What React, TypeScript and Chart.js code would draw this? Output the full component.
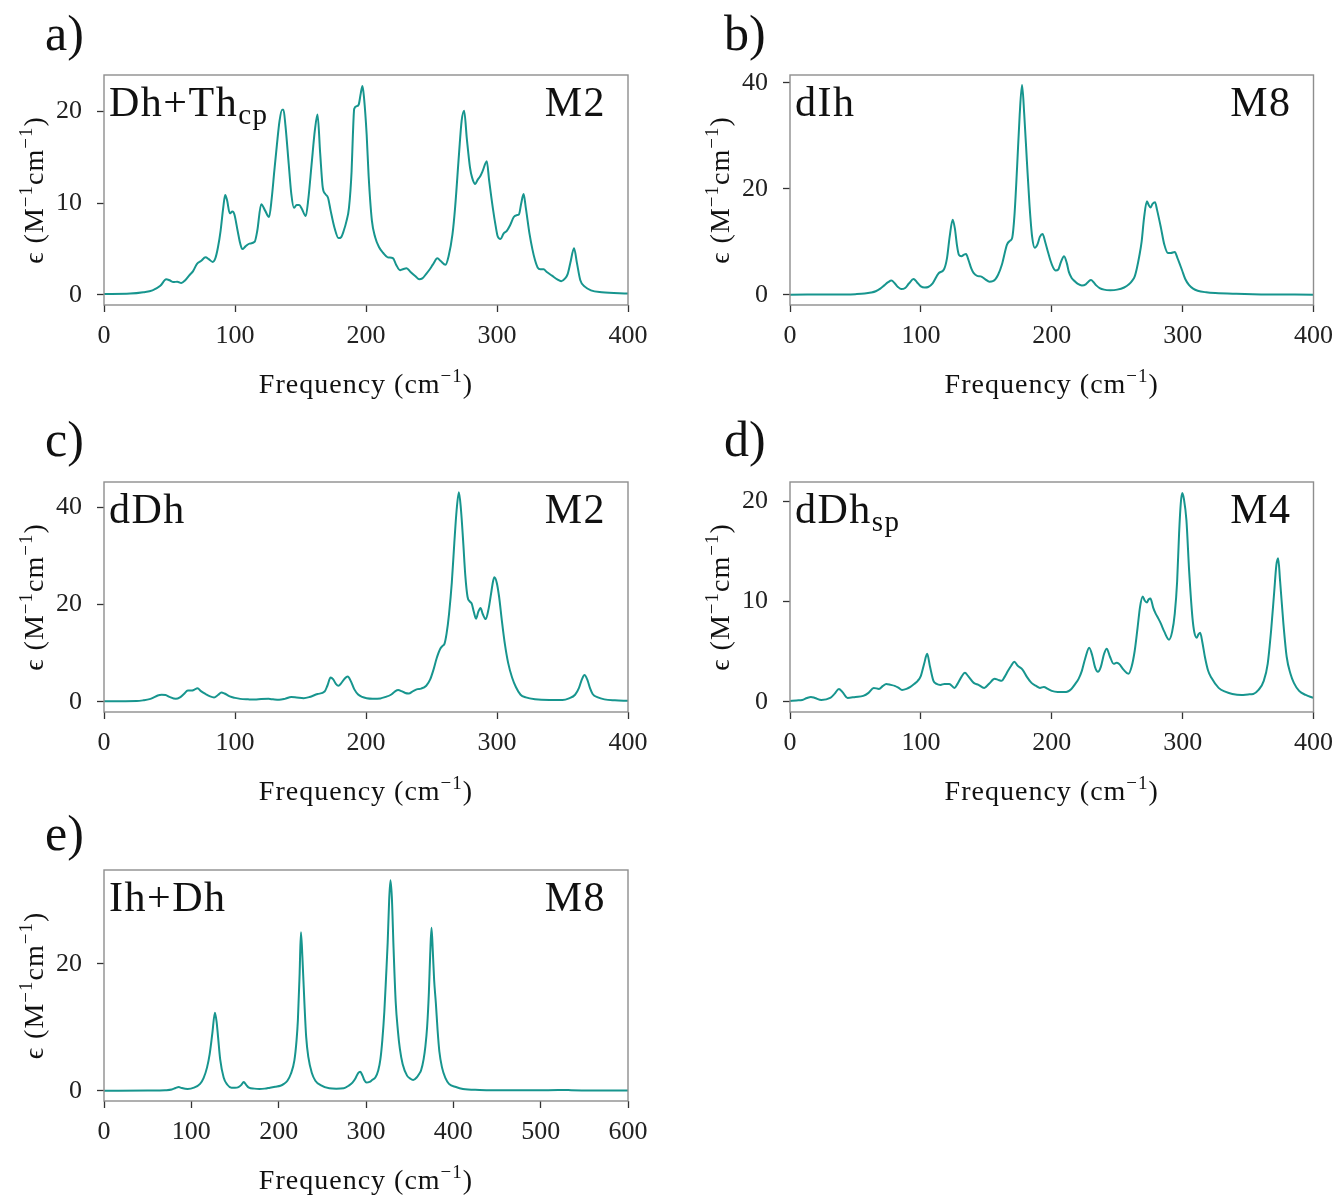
import { useEffect, useRef } from "react";
import { Chart, registerables } from "chart.js";

Chart.register(...registerables);

// ---------------- data ----------------
// a) Dh+Th_cp, M2
const freqA = [0, 20, 30, 37, 43, 47.5, 50, 53, 56, 59, 62, 65.5, 68, 71, 74, 77.5, 80, 83, 85, 87, 89, 91, 92.5, 94, 96, 98, 99.5, 102, 104, 105.6, 108, 111, 115, 117, 120, 123, 126, 128, 130, 132, 134, 136, 137, 138.5, 141, 143, 145, 147, 149, 151, 154, 156, 158.5, 161, 163, 165, 167, 169, 171, 173, 176, 179, 181, 183, 185, 187, 189, 190, 191, 193, 194.5, 196, 197.3, 198.5, 200.5, 202, 204.5, 207, 210, 213, 216.6, 220.6, 223, 226, 228, 231, 234, 238, 240.6, 243, 246, 248.7, 251, 254.5, 257, 260.7, 263, 266, 268, 271, 273, 274.9, 277, 279.4, 281, 283.4, 285, 287.4, 289, 292.2, 294, 296.8, 299, 300.5, 302.7, 305, 307.5, 310, 312.8, 315, 316.8, 318.5, 320.3, 322, 324.9, 327, 329, 331, 333, 335.6, 338, 342, 346, 349, 352, 354, 356, 358.8, 361, 363.6, 367, 371.7, 380, 400];
const epsA = [0.1, 0.15, 0.3, 0.5, 1.0, 1.7, 1.6, 1.4, 1.45, 1.3, 1.6, 2.2, 2.6, 3.4, 3.7, 4.1, 3.9, 3.6, 4.0, 5.2, 7.0, 9.5, 10.9, 10.3, 8.9, 9.1, 8.8, 7.0, 5.6, 5.0, 5.3, 5.6, 5.8, 7.0, 9.9, 9.2, 8.5, 10.5, 13.5, 16.4, 19.0, 20.2, 20.2, 18.5, 14.3, 11.0, 9.5, 9.8, 9.8, 9.4, 8.6, 10.5, 14.3, 18.0, 19.7, 15.5, 11.7, 11.0, 10.6, 9.2, 7.3, 6.2, 6.3, 7.0, 8.0, 9.5, 13.5, 17.5, 20.3, 20.6, 20.8, 22.0, 22.8, 21.5, 17.5, 13.0, 8.1, 6.3, 5.2, 4.6, 4.1, 4.0, 3.3, 2.7, 2.8, 2.9, 2.5, 2.0, 1.7, 1.8, 2.3, 2.8, 3.3, 4.0, 3.7, 3.3, 4.2, 6.6, 9.5, 15.4, 19.0, 20.1, 17.0, 13.9, 12.8, 12.1, 12.5, 13.0, 13.5, 14.6, 12.5, 9.5, 7.5, 6.4, 6.1, 6.7, 7.0, 7.6, 8.5, 8.7, 8.8, 10.0, 11.0, 9.5, 6.6, 5.0, 3.8, 3.0, 2.8, 2.8, 2.5, 2.1, 1.7, 1.5, 1.8, 2.3, 3.5, 5.1, 3.5, 1.6, 0.9, 0.5, 0.3, 0.15];

// b) dIh, M8
const freqB = [0, 40, 50, 57, 62, 65.5, 69, 72, 75, 77.5, 80, 82.5, 85, 88, 91, 94.4, 97, 100, 103, 105.6, 109, 113.6, 117.6, 120, 122, 124.3, 126, 127.5, 129, 131, 133, 134.5, 136.5, 138.5, 140.4, 143, 145.7, 149, 152.4, 155, 157, 159, 162, 165.8, 168, 169.8, 171.5, 173.5, 175.5, 177.3, 179, 181, 183, 185, 187, 189, 191, 193, 195, 197, 199, 201, 203, 205, 207, 209.4, 211.5, 213, 215.2, 218, 220, 223, 226, 228, 230, 232, 234, 236.6, 240, 244.7, 250, 255.3, 259, 261.5, 263.4, 265, 266.8, 268.7, 270.5, 272.7, 274, 275.4, 277, 278.9, 280.5, 283.4, 286, 288.8, 291, 294, 296, 299.5, 302, 304.8, 308, 311.5, 318, 325, 341, 360, 400];
const epsB = [0.05, 0.1, 0.15, 0.25, 0.45, 0.7, 1.2, 1.8, 2.4, 2.7, 2.2, 1.5, 1.1, 1.3, 2.2, 3.0, 2.4, 1.6, 1.4, 1.5, 2.2, 4.1, 4.8, 7.0, 11.0, 14.2, 12.5, 9.5, 7.6, 7.3, 7.6, 7.7, 6.5, 5.0, 4.1, 3.6, 3.5, 3.0, 2.5, 2.6, 3.0, 3.8, 5.8, 9.5, 10.2, 10.8, 15.0, 24.0, 34.0, 39.6, 34.0, 25.3, 17.0, 11.0, 8.9, 9.5, 11.0, 11.5, 10.0, 8.2, 6.5, 5.2, 4.6, 4.8, 6.2, 7.3, 6.0, 4.4, 3.2, 2.5, 2.1, 1.8, 2.0, 2.5, 2.8, 2.4, 1.8, 1.3, 1.0, 0.9, 1.0, 1.4, 2.0, 2.7, 3.5, 5.0, 7.2, 10.1, 14.5, 17.7, 17.0, 16.5, 17.2, 17.5, 16.0, 12.7, 9.5, 7.9, 7.9, 8.1, 7.0, 4.7, 3.0, 1.9, 1.2, 0.8, 0.5, 0.35, 0.2, 0.1, 0.05];

// c) dDh, M2
const freqC = [0, 25, 30, 34.8, 38, 41, 44, 47, 50, 54.8, 58, 61, 64, 67, 69, 71.4, 74, 77.5, 81, 84, 87, 89.6, 92, 96, 100, 104, 110, 115, 120, 125.7, 129, 133.7, 138, 143, 147, 152.4, 157, 163, 168.4, 170.5, 173, 175, 177, 179, 181, 183.5, 186, 188.5, 191, 194, 197, 200.5, 205, 211, 215, 219, 222, 224.6, 227, 230, 232.6, 236, 239.3, 242, 246, 249, 251.3, 254, 256.7, 258.5, 259.9, 261.5, 263.4, 265.5, 267.4, 269.2, 270.9, 272.5, 274.1, 275.8, 277.5, 279, 280.7, 282.3, 284, 285.7, 287.4, 289.2, 291.4, 293.5, 295.5, 297, 298, 299.8, 301.6, 303.8, 306, 308.5, 311.5, 314.5, 318, 322, 329, 340, 350, 355, 359.6, 362.5, 364.8, 366.8, 369, 371, 373, 377, 382, 390, 400];
const epsC = [0.1, 0.15, 0.3, 0.55, 0.9, 1.3, 1.45, 1.4, 1.0, 0.6, 0.9, 1.6, 2.3, 2.3, 2.5, 2.8, 2.2, 1.6, 1.1, 0.9, 1.4, 1.9, 1.7, 1.1, 0.8, 0.6, 0.5, 0.45, 0.55, 0.6, 0.5, 0.4, 0.6, 1.0, 0.9, 0.75, 1.0, 1.6, 2.1, 3.3, 5.0, 4.6, 3.7, 3.3, 3.8, 4.7, 5.2, 4.2, 2.6, 1.5, 1.0, 0.75, 0.65, 0.7, 1.0, 1.45, 2.1, 2.4, 2.2, 1.8, 1.7, 2.2, 2.6, 2.7, 3.3, 4.6, 6.4, 9.0, 10.9, 11.5, 11.9, 14.0, 18.1, 24.5, 32.6, 39.5, 43.1, 39.5, 33.3, 26.0, 21.6, 20.7, 20.2, 18.5, 17.1, 18.5, 19.3, 18.0, 17.0, 19.0, 22.3, 24.8, 25.6, 24.5, 21.6, 16.5, 11.9, 8.0, 5.0, 3.0, 1.45, 0.9, 0.5, 0.35, 0.35, 0.7, 1.45, 2.8, 4.6, 5.5, 4.5, 2.8, 1.6, 0.9, 0.5, 0.3, 0.2];

// d) dDh_sp, M4
const freqD = [0, 5, 9.4, 13, 16, 19, 24, 30.7, 34, 37.4, 40, 44, 50, 56, 60, 64, 68, 71, 73.5, 77, 80, 83, 85.6, 89, 92, 95, 97.6, 100, 102.5, 104.8, 107, 109.6, 112, 115, 118, 121.7, 125.7, 128, 131, 133.7, 136, 140.4, 144, 148.4, 152, 156.4, 159, 161.8, 164, 166.6, 169, 171.4, 174, 177.8, 181, 184.5, 188, 191, 194, 197, 200, 204.5, 211, 215, 218, 220.5, 223, 225.5, 228.6, 231, 233, 235.3, 237.5, 240, 242, 244.5, 247.3, 249.5, 251.3, 255, 258.6, 261, 263.4, 265.5, 267.5, 269.5, 271, 272.7, 274, 275.4, 277.5, 279.4, 281.5, 283.4, 286, 289.6, 292, 294, 295.8, 297.3, 298.6, 299.7, 301, 302.9, 305, 307.5, 309, 310.7, 312, 313.4, 315, 317, 319.5, 322, 327.5, 333, 338, 345, 350, 354, 358, 362, 365, 367.6, 370, 371.6, 373, 374.5, 377, 379.5, 382.4, 385, 389, 394, 400];
const epsD = [0.1, 0.15, 0.2, 0.4, 0.5, 0.4, 0.2, 0.4, 0.8, 1.3, 1.0, 0.4, 0.5, 0.6, 0.9, 1.4, 1.3, 1.6, 1.8, 1.7, 1.6, 1.4, 1.2, 1.3, 1.5, 1.8, 2.1, 2.6, 3.8, 4.8, 3.5, 2.1, 1.8, 1.7, 1.8, 1.8, 1.4, 1.8, 2.5, 2.9, 2.6, 1.9, 1.7, 1.4, 1.8, 2.3, 2.2, 2.1, 2.5, 3.1, 3.6, 4.0, 3.6, 3.2, 2.5, 1.9, 1.6, 1.4, 1.5, 1.3, 1.1, 1.0, 1.0, 1.3, 1.8, 2.3, 3.1, 4.3, 5.4, 4.6, 3.5, 3.0, 3.5, 4.8, 5.3, 4.5, 3.8, 3.9, 3.8, 3.2, 2.8, 3.5, 5.1, 7.3, 9.5, 10.5, 10.1, 9.9, 10.2, 10.3, 9.4, 8.8, 8.3, 7.8, 7.0, 6.2, 7.0, 8.8, 12.0, 16.8, 19.8, 20.8, 20.2, 18.1, 13.0, 8.4, 6.9, 6.4, 6.7, 6.9, 6.0, 4.5, 3.1, 2.4, 1.4, 1.0, 0.8, 0.7, 0.75, 0.8, 1.2, 2.1, 3.8, 7.1, 11.0, 13.6, 14.3, 12.0, 7.8, 4.5, 2.8, 1.9, 1.1, 0.7, 0.4];

// e) Ih+Dh, M8
const freqE = [0, 50, 70, 77.6, 82, 85.6, 89, 95.7, 103, 110, 114, 118, 121, 124, 127, 129, 130.6, 133, 137, 141, 146, 150, 154, 157, 160, 163, 166, 172, 178, 184, 190, 196, 202, 206, 210, 214, 218, 220.5, 222, 224, 225.5, 227.2, 229.5, 231.5, 234, 238, 242, 248, 258, 266, 274.5, 280, 284.5, 288, 291, 293.4, 296, 298, 300.6, 304, 307, 310.7, 314, 316.5, 318.7, 321, 323, 324.8, 326.5, 328, 329.6, 331.6, 334, 336.5, 338.8, 342, 347, 350, 354, 358, 361, 363, 366, 368, 370, 372, 373.5, 375, 376.5, 378, 380, 382, 384, 387, 391, 395, 403, 411, 430, 447, 500, 520, 527, 535, 560, 600];
const epsE = [0.0, 0.05, 0.1, 0.2, 0.45, 0.6, 0.45, 0.3, 0.5, 1.1, 2.0, 3.7, 5.8, 9.0, 12.3, 10.8, 8.5, 5.0, 2.1, 1.0, 0.5, 0.5, 0.6, 0.9, 1.4, 0.9, 0.5, 0.35, 0.3, 0.35, 0.5, 0.65, 0.8, 1.1, 1.6, 2.7, 4.8, 8.0, 11.1, 18.5, 25.0, 21.0, 13.8, 8.5, 5.3, 2.8, 1.6, 0.9, 0.4, 0.35, 0.4, 0.8, 1.3, 2.0, 2.8, 3.0, 2.4, 1.7, 1.3, 1.4, 1.7, 2.1, 3.2, 5.0, 8.0, 12.5, 18.0, 23.3, 30.0, 33.2, 30.5, 22.3, 14.0, 9.5, 6.6, 4.2, 2.4, 2.0, 1.7, 2.1, 2.7, 3.2, 5.0, 7.0, 10.1, 15.5, 21.5, 25.7, 22.0, 17.5, 13.8, 9.5, 6.2, 3.7, 2.0, 1.1, 0.6, 0.3, 0.15, 0.1, 0.08, 0.12, 0.15, 0.1, 0.05, 0.05];

// tick labels
const xTicks400 = [0, 100, 200, 300, 400];
const xTicks600 = [0, 100, 200, 300, 400, 500, 600];
const yTicksA = [0, 10, 20];
const yTicksB = [0, 20, 40];
const yTicksC = [0, 20, 40];
const yTicksD = [0, 10, 20];
const yTicksE = [0, 20];

// labels
const panelLetters = ["a)", "b)", "c)", "d)", "e)"];
const structureNames = ["Dh+Th", "dIh", "dDh", "dDh", "Ih+Dh"];
const structureSubs = ["cp", "", "", "sp", ""];
const modelNames = ["M2", "M8", "M2", "M4", "M8"];
const xTitle = "Frequency (cm";
const yTitleParts = ["ϵ (M", "cm", ")"];
const supText = "−1";

// ---------------- layout ----------------
const LINE_COLOR = "#17958e";
const FRAME_COLOR = "#8e8e8e";
const TICK_COLOR = "#333333";
const SERIF = '"Liberation Serif", "DejaVu Serif", serif';

type PanelSpec = {
  idx: number;
  freq: number[];
  eps: number[];
  xTicks: number[];
  yTicks: number[];
  xMax: number;
  yMin: number;
  yMax: number;
  canvas: { left: number; top: number; width: number; height: number };
  area: { left: number; top: number; right: number; bottom: number };
  letterBaseline: number; // page coords
  letterX: number;
};

const panels: PanelSpec[] = [
  {
    idx: 0, freq: freqA, eps: epsA, xTicks: xTicks400, yTicks: yTicksA, xMax: 400, yMin: -1.1, yMax: 24.0,
    canvas: { left: 0, top: 0, width: 670, height: 413 },
    area: { left: 104, top: 75, right: 628, bottom: 305 },
    letterBaseline: 50, letterX: 45,
  },
  {
    idx: 1, freq: freqB, eps: epsB, xTicks: xTicks400, yTicks: yTicksB, xMax: 400, yMin: -1.9, yMax: 41.5,
    canvas: { left: 680, top: 0, width: 662, height: 413 },
    area: { left: 790, top: 75, right: 1315, bottom: 305 },
    letterBaseline: 50, letterX: 724,
  },
  {
    idx: 2, freq: freqC, eps: epsC, xTicks: xTicks400, yTicks: yTicksC, xMax: 400, yMin: -2.1, yMax: 45.2,
    canvas: { left: 0, top: 405, width: 670, height: 415 },
    area: { left: 104, top: 482, right: 628, bottom: 712 },
    letterBaseline: 456, letterX: 45,
  },
  {
    idx: 3, freq: freqD, eps: epsD, xTicks: xTicks400, yTicks: yTicksD, xMax: 400, yMin: -1.0, yMax: 21.9,
    canvas: { left: 680, top: 405, width: 662, height: 415 },
    area: { left: 790, top: 482, right: 1315, bottom: 712 },
    letterBaseline: 456, letterX: 724,
  },
  {
    idx: 4, freq: freqE, eps: epsE, xTicks: xTicks600, yTicks: yTicksE, xMax: 600, yMin: -1.6, yMax: 34.8,
    canvas: { left: 0, top: 795, width: 670, height: 401 },
    area: { left: 104, top: 870, right: 628, bottom: 1101 },
    letterBaseline: 850, letterX: 45,
  },
];

type Seg = { t: string; size: number; dy: number };

function segWidth(ctx: CanvasRenderingContext2D, segs: Seg[]) {
  let w = 0;
  for (const s of segs) {
    ctx.font = `${s.size}px ${SERIF}`;
    w += ctx.measureText(s.t).width;
  }
  return w;
}

function drawSegs(ctx: CanvasRenderingContext2D, segs: Seg[], x: number, y: number) {
  let cx = x;
  for (const s of segs) {
    ctx.font = `${s.size}px ${SERIF}`;
    ctx.fillText(s.t, cx, y + s.dy);
    cx += ctx.measureText(s.t).width;
  }
}

function makeDecor(p: PanelSpec) {
  return {
    id: "decor" + p.idx,
    afterDraw(chart: any) {
      const ctx: CanvasRenderingContext2D = chart.ctx;
      const a = chart.chartArea;
      const cl = p.canvas.left;
      const ct = p.canvas.top;
      ctx.save();
      // frame
      ctx.strokeStyle = FRAME_COLOR;
      ctx.lineWidth = 1.4;
      ctx.strokeRect(a.left, a.top, a.right - a.left, a.bottom - a.top);

      ctx.fillStyle = "#111";
      ctx.textBaseline = "alphabetic";
      ctx.textAlign = "left";
      (ctx as any).letterSpacing = "0px";

      // panel letter
      ctx.font = `50px ${SERIF}`;
      ctx.fillText(panelLetters[p.idx], p.letterX - cl, p.letterBaseline - ct);

      // structure label with optional subscript
      (ctx as any).letterSpacing = "1.5px";
      const sBase = a.top + 41;
      const sSegs: Seg[] = [{ t: structureNames[p.idx], size: 42, dy: 0 }];
      if (structureSubs[p.idx]) sSegs.push({ t: structureSubs[p.idx], size: 29, dy: 8 });
      drawSegs(ctx, sSegs, a.left + 5, sBase);

      // model label (right aligned)
      const mSegs: Seg[] = [{ t: modelNames[p.idx], size: 42, dy: 0 }];
      const mw = segWidth(ctx, mSegs);
      drawSegs(ctx, mSegs, a.right - 22 - mw, sBase);

      // x axis title
      (ctx as any).letterSpacing = "1px";
      const xSegs: Seg[] = [
        { t: xTitle, size: 28, dy: 0 },
        { t: supText, size: 19, dy: -11 },
        { t: ")", size: 28, dy: 0 },
      ];
      const xw = segWidth(ctx, xSegs);
      drawSegs(ctx, xSegs, (a.left + a.right) / 2 - xw / 2, a.bottom + 88);

      // y axis title (rotated)
      const ySegs: Seg[] = [
        { t: yTitleParts[0], size: 28, dy: 0 },
        { t: supText, size: 19, dy: -11 },
        { t: yTitleParts[1], size: 28, dy: 0 },
        { t: supText, size: 19, dy: -11 },
        { t: yTitleParts[2], size: 28, dy: 0 },
      ];
      const yw = segWidth(ctx, ySegs);
      ctx.translate(a.left - 61, (a.top + a.bottom) / 2);
      ctx.rotate(-Math.PI / 2);
      drawSegs(ctx, ySegs, -yw / 2, 0);
      ctx.restore();
    },
  };
}

function Panel({ p }: { p: PanelSpec }) {
  const ref = useRef<HTMLCanvasElement | null>(null);
  useEffect(() => {
    if (!ref.current) return;
    const yWidth = p.area.left - p.canvas.left;
    const xHeight = p.canvas.top + p.canvas.height - p.area.bottom;
    const padTop = p.area.top - p.canvas.top;
    const padRight = p.canvas.left + p.canvas.width - p.area.right;
    const tickFont = { family: SERIF, size: 26 };
    const chart = new Chart(ref.current, {
      type: "line",
      data: {
        datasets: [
          {
            data: p.freq.map((x, i) => ({ x, y: p.eps[i] })),
            borderColor: LINE_COLOR,
            borderWidth: 2,
            pointRadius: 0,
            fill: false,
            cubicInterpolationMode: "monotone",
          },
        ],
      },
      options: {
        responsive: false,
        maintainAspectRatio: false,
        animation: false,
        events: [],
        layout: { padding: { top: padTop, right: padRight, left: 0, bottom: 0 } },
        plugins: { legend: { display: false }, tooltip: { enabled: false } },
        scales: {
          x: {
            type: "linear",
            min: 0,
            max: p.xMax,
            afterBuildTicks: (s: any) => {
              s.ticks = p.xTicks.map((v) => ({ value: v }));
            },
            afterFit: (s: any) => {
              s.height = xHeight;
            },
            ticks: {
              font: tickFont,
              color: "#222",
              padding: 9,
              maxRotation: 0,
              minRotation: 0,
              autoSkip: false,
              callback: (v: any) => String(v),
            },
            grid: {
              display: true,
              drawOnChartArea: false,
              drawTicks: true,
              tickLength: 7,
              tickWidth: 1.3,
              tickColor: TICK_COLOR,
            },
            border: { display: false },
          },
          y: {
            type: "linear",
            min: p.yMin,
            max: p.yMax,
            afterBuildTicks: (s: any) => {
              s.ticks = p.yTicks.map((v) => ({ value: v }));
            },
            afterFit: (s: any) => {
              s.width = yWidth;
            },
            ticks: {
              font: tickFont,
              color: "#222",
              padding: 15,
              autoSkip: false,
              callback: (v: any) => String(v),
            },
            grid: {
              display: true,
              drawOnChartArea: false,
              drawTicks: true,
              tickLength: 7,
              tickWidth: 1.3,
              tickColor: TICK_COLOR,
            },
            border: { display: false },
          },
        },
      },
      plugins: [makeDecor(p)],
    } as any);
    return () => chart.destroy();
  }, [p]);
  return (
    <canvas
      ref={ref}
      width={p.canvas.width}
      height={p.canvas.height}
      style={{
        position: "absolute",
        left: p.canvas.left,
        top: p.canvas.top,
        width: p.canvas.width,
        height: p.canvas.height,
      }}
    />
  );
}

export default function App() {
  return (
    <div
      style={{
        position: "absolute",
        left: 0,
        top: 0,
        width: 1342,
        height: 1196,
        overflow: "hidden",
        background: "#ffffff",
      }}
    >
      {panels.map((p) => (
        <Panel key={p.idx} p={p} />
      ))}
    </div>
  );
}
